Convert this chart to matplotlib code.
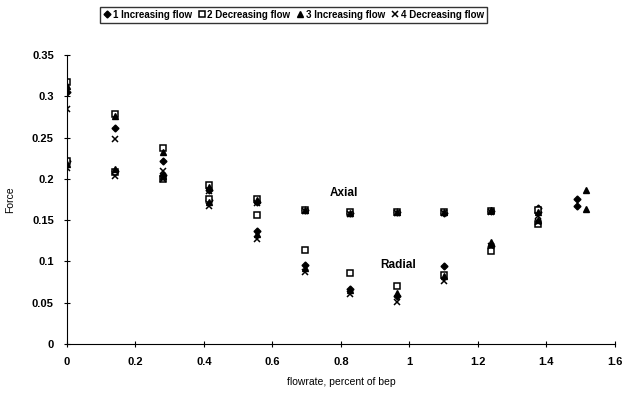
import matplotlib
matplotlib.use("Agg")
import matplotlib.pyplot as plt

plt.rcParams['font.family'] = ['Liberation Sans', 'DejaVu Sans']
plt.rcParams['font.weight'] = 'bold'
plt.rcParams['font.size'] = 7.5

# flowrate positions
flow = [0.0, 0.14, 0.28, 0.415, 0.555, 0.695, 0.826, 0.963, 1.10, 1.238, 1.375]
flow_hi1 = 1.49
flow_hi3 = 1.515

# 1 Increasing flow (diamond)
s1_axial = [0.305, 0.262, 0.222, 0.187, 0.172, 0.162, 0.158, 0.160, 0.159, 0.161, 0.165]
s1_radial = [0.221, 0.210, 0.205, 0.174, 0.137, 0.096, 0.067, 0.058, 0.094, 0.118, 0.160]
s1_hi = [0.176, 0.167]

# 2 Decreasing flow (square)
s2_axial = [0.317, 0.278, 0.237, 0.193, 0.176, 0.162, 0.160, 0.160, 0.160, 0.161, 0.162]
s2_radial = [0.222, 0.208, 0.200, 0.175, 0.156, 0.114, 0.086, 0.070, 0.084, 0.112, 0.145]

# 3 Increasing flow (triangle)
s3_axial = [0.312, 0.276, 0.233, 0.190, 0.174, 0.162, 0.159, 0.160, 0.160, 0.162, 0.160]
s3_radial = [0.218, 0.212, 0.203, 0.172, 0.133, 0.092, 0.065, 0.062, 0.082, 0.123, 0.150]
s3_hi = [0.187, 0.163]

# 4 Decreasing flow (x)
s4_axial = [0.285, 0.248, 0.210, 0.185, 0.171, 0.161, 0.157, 0.158, 0.158, 0.160, 0.155]
s4_radial = [0.213, 0.203, 0.200, 0.167, 0.127, 0.087, 0.061, 0.051, 0.076, 0.118, 0.148]

fig = plt.figure(figsize=(6.26, 3.93), dpi=100)
ax = fig.add_axes([0.107, 0.125, 0.875, 0.735])

x1 = flow + flow + [flow_hi1] * 2
x3 = flow + flow + [flow_hi3] * 2
ax.plot(x1, s1_axial + s1_radial + s1_hi, 'D', color='black', ms=3.5, ls='none',
        label='1 Increasing flow')
ax.plot(flow + flow, s2_axial + s2_radial, 's', mfc='white', mec='black', mew=1.1,
        ms=5, ls='none', label='2 Decreasing flow')
ax.plot(x3, s3_axial + s3_radial + s3_hi, '^', color='black', ms=4.5, ls='none',
        label='3 Increasing flow')
ax.plot(flow + flow, s4_axial + s4_radial, 'x', color='black', mew=1.1, ms=4.5,
        ls='none', label='4 Decreasing flow')

ax.text(0.81, 0.183, 'Axial', fontsize=8.5, ha='center', va='center')
ax.text(0.966, 0.096, 'Radial', fontsize=8.5, ha='center', va='center')

ax.set_xlim(0, 1.6)
ax.set_ylim(0, 0.35)
ax.set_xticks([0, 0.2, 0.4, 0.6, 0.8, 1, 1.2, 1.4, 1.6])
ax.set_xticklabels(['0', '0.2', '0.4', '0.6', '0.8', '1', '1.2', '1.4', '1.6'])
ax.set_yticks([0, 0.05, 0.1, 0.15, 0.2, 0.25, 0.3, 0.35])
ax.set_yticklabels(['0', '0.05', '0.1', '0.15', '0.2', '0.25', '0.3', '0.35'])
ax.tick_params(direction='inout', length=5, width=0.8, labelsize=8, pad=7)
ax.spines['top'].set_visible(False)
ax.spines['right'].set_visible(False)
ax.set_xlabel('flowrate, percent of bep', fontsize=7.5)
ax.set_ylabel('Force', fontsize=7.5)
ax.xaxis.set_label_coords(0.5, -0.115)
ax.yaxis.set_label_coords(-0.094, 0.5)

fig.legend(loc='upper center', bbox_to_anchor=(0.469, 0.995), ncol=4, frameon=True,
           fancybox=False, edgecolor='black', handlelength=0.8, handletextpad=0.2,
           columnspacing=0.6, borderpad=0.3, fontsize=7)

plt.savefig('out.png', dpi=100)
